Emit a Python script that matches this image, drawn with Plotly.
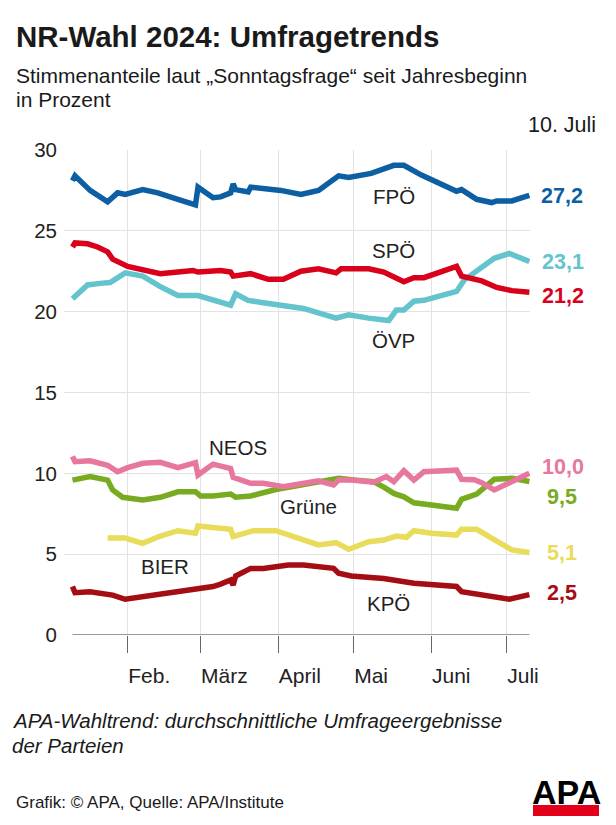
import plotly.graph_objects as go

# ---------------- data ----------------
fpo_dates = ["2024-01-10","2024-01-11","2024-01-17","2024-01-24","2024-01-28","2024-01-31","2024-02-07","2024-02-13",
             "2024-02-21","2024-02-28","2024-02-29","2024-03-06","2024-03-09","2024-03-13","2024-03-14","2024-03-15",
             "2024-03-20","2024-03-21","2024-04-02","2024-04-10","2024-04-17","2024-04-25","2024-04-29","2024-05-08",
             "2024-05-17","2024-05-21","2024-05-28","2024-06-11","2024-06-13","2024-06-19","2024-06-25","2024-06-27",
             "2024-07-03","2024-07-10"]
fpo = [28.1,28.4,27.5,26.8,27.35,27.25,27.55,27.35,26.95,26.6,27.7,27.05,27.1,27.35,27.9,27.55,
       27.4,27.7,27.5,27.25,27.5,28.4,28.3,28.55,29.05,29.05,28.45,27.45,27.55,26.95,26.75,26.85,26.85,27.2]

spo_dates = ["2024-01-10","2024-01-11","2024-01-16","2024-01-20","2024-01-24","2024-01-26","2024-02-01","2024-02-07",
             "2024-02-14","2024-02-21","2024-02-27","2024-02-29","2024-03-06","2024-03-09","2024-03-13","2024-03-14",
             "2024-03-21","2024-03-28","2024-04-03","2024-04-10","2024-04-17","2024-04-24","2024-04-26","2024-05-07",
             "2024-05-13","2024-05-21","2024-05-25","2024-05-29","2024-06-11","2024-06-13","2024-06-21","2024-06-27",
             "2024-07-03","2024-07-10"]
spo = [24.0,24.25,24.2,24.0,23.7,23.25,22.8,22.6,22.35,22.45,22.55,22.45,22.55,22.55,22.45,22.2,
       22.35,22.0,22.0,22.5,22.65,22.4,22.65,22.65,22.45,21.85,22.1,22.1,22.8,22.2,21.9,21.5,21.3,21.2]

ovp_dates = ["2024-01-10","2024-01-11","2024-01-16","2024-01-21","2024-01-25","2024-01-31","2024-02-07","2024-02-14",
             "2024-02-21","2024-02-29","2024-03-06","2024-03-09","2024-03-13","2024-03-15","2024-03-20","2024-03-26",
             "2024-04-05","2024-04-11","2024-04-24","2024-04-29","2024-05-07","2024-05-15","2024-05-18","2024-05-21",
             "2024-05-25","2024-05-29","2024-06-11","2024-06-14","2024-06-26","2024-07-02","2024-07-10"]
ovp = [20.8,20.95,21.65,21.75,21.8,22.4,22.2,21.55,21.0,21.0,20.7,20.6,20.4,21.1,20.7,20.55,
       20.3,20.2,19.6,19.8,19.6,19.45,20.1,20.1,20.65,20.7,21.25,21.95,23.3,23.6,23.1]

neos_dates = ["2024-01-10","2024-01-11","2024-01-17","2024-01-24","2024-01-28","2024-02-01","2024-02-07","2024-02-14",
              "2024-02-21","2024-02-28","2024-02-29","2024-03-06","2024-03-13","2024-03-14","2024-03-21","2024-03-26",
              "2024-04-03","2024-04-17","2024-04-23","2024-04-25","2024-04-30","2024-05-09","2024-05-14","2024-05-17",
              "2024-05-21","2024-05-25","2024-05-29","2024-06-11","2024-06-13","2024-06-18","2024-06-21","2024-06-26",
              "2024-07-10"]
neos = [11.05,10.72,10.78,10.5,10.1,10.35,10.62,10.68,10.35,10.66,9.9,10.57,10.3,9.75,9.38,9.38,
        9.17,9.54,9.28,9.58,9.58,9.45,9.8,9.48,10.16,9.58,10.1,10.2,9.63,9.6,9.42,8.97,10.0]

gruene_dates = ["2024-01-10","2024-01-17","2024-01-24","2024-01-26","2024-01-30","2024-02-07","2024-02-14","2024-02-21",
                "2024-02-28","2024-03-01","2024-03-06","2024-03-13","2024-03-15","2024-03-21","2024-03-31","2024-04-17",
                "2024-04-25","2024-05-02","2024-05-09","2024-05-13","2024-05-17","2024-05-21","2024-05-25","2024-06-01",
                "2024-06-11","2024-06-13","2024-06-19","2024-06-26","2024-07-03","2024-07-10"]
gruene = [9.58,9.8,9.58,8.97,8.52,8.35,8.52,8.86,8.86,8.6,8.6,8.72,8.52,8.6,9.0,9.48,
          9.69,9.58,9.48,9.15,8.76,8.55,8.18,8.04,7.84,8.39,8.72,9.63,9.69,9.5]

bier_dates = ["2024-01-24","2024-01-31","2024-02-07","2024-02-14","2024-02-21","2024-02-28","2024-02-29","2024-03-06",
              "2024-03-13","2024-03-14","2024-03-22","2024-03-31","2024-04-17","2024-04-24","2024-04-29","2024-05-07",
              "2024-05-13","2024-05-18","2024-05-22","2024-05-25","2024-06-01","2024-06-11","2024-06-13","2024-06-19",
              "2024-06-26","2024-07-03","2024-07-10"]
bier = [6.0,6.0,5.67,6.12,6.45,6.29,6.74,6.66,6.54,6.08,6.45,6.45,5.57,5.71,5.3,5.77,
        5.87,6.12,6.04,6.45,6.29,6.18,6.54,6.54,5.87,5.26,5.1]

kpo_dates = ["2024-01-10","2024-01-11","2024-01-17","2024-01-26","2024-01-31","2024-02-07","2024-02-14","2024-02-21",
             "2024-02-28","2024-02-29","2024-03-06","2024-03-09","2024-03-11","2024-03-13","2024-03-14","2024-03-15",
             "2024-03-21","2024-03-26","2024-04-05","2024-04-11","2024-04-23","2024-04-25","2024-04-30","2024-05-13",
             "2024-05-25","2024-06-11","2024-06-13","2024-06-19","2024-07-02","2024-07-10"]
kpo = [3.0,2.62,2.68,2.47,2.21,2.37,2.58,2.74,2.83,2.93,3.0,3.15,3.3,3.4,3.09,3.65,
       4.12,4.12,4.33,4.33,4.12,3.82,3.65,3.5,3.2,3.0,2.68,2.54,2.21,2.5]

parties = ["FPÖ", "SPÖ", "ÖVP", "NEOS", "Grüne", "BIER", "KPÖ"]
month_ticks = ["2024-02-01","2024-03-01","2024-04-01","2024-05-01","2024-06-01","2024-07-01"]
month_labels = ["Feb.", "März", "April", "Mai", "Juni", "Juli"]
y_ticks = [0, 5, 10, 15, 20, 25, 30]

# ---------------- styling ----------------
series = {
    "ÖVP":   (ovp_dates, ovp, "#63c4cd"),
    "SPÖ":   (spo_dates, spo, "#d9001b"),
    "FPÖ":   (fpo_dates, fpo, "#0c5fa3"),
    "BIER":  (bier_dates, bier, "#e8dc5a"),
    "KPÖ":   (kpo_dates, kpo, "#a50d14"),
    "Grüne": (gruene_dates, gruene, "#78ab1f"),
    "NEOS":  (neos_dates, neos, "#e8779f"),
}
draw_order = ["ÖVP", "SPÖ", "FPÖ", "BIER", "KPÖ", "Grüne", "NEOS"]

# name label placement (date, value)
name_pos = {
    "FPÖ": ("2024-05-17", 27.15), "SPÖ": ("2024-05-17", 23.8), "ÖVP": ("2024-05-17", 18.2),
    "NEOS": ("2024-03-16", 11.6), "Grüne": ("2024-04-13", 7.95), "BIER": ("2024-02-16", 4.25),
    "KPÖ": ("2024-05-15", 1.95),
}
# end-value label vertical placement
end_label_y = {"FPÖ": 27.15, "ÖVP": 23.05, "SPÖ": 20.95, "NEOS": 10.4, "Grüne": 8.55, "BIER": 5.1, "KPÖ": 2.6}
end_label_shift = {"FPÖ": 10, "ÖVP": 11, "SPÖ": 11, "NEOS": 11, "Grüne": 16, "BIER": 16, "KPÖ": 16}

FONT = "Liberation Sans, Arial, Helvetica, sans-serif"
W, H = 616, 825
L, R, T, B = 64, 530, 150, 635


def px(x):
    return (x - L) / (R - L)


def py(y):
    return (B - y) / (B - T)


fig = go.Figure()
for name in draw_order:
    d, v, c = series[name]
    fig.add_trace(go.Scatter(x=d, y=v, mode="lines", name=name,
                             line=dict(color=c, width=5.5), hoverinfo="skip"))

annotations = []
for name in parties:
    d, v, c = series[name]
    annotations.append(dict(x=name_pos[name][0], y=name_pos[name][1], xref="x", yref="y",
                            text=name, showarrow=False, xanchor="center", yanchor="middle",
                            font=dict(family=FONT, size=20.5, color="#222")))
    annotations.append(dict(x=d[-1], y=end_label_y[name], xref="x", yref="y",
                            text="<b>" + f"{v[-1]:.1f}".replace(".", ",") + "</b>",
                            showarrow=False, xanchor="left", yanchor="middle",
                            xshift=end_label_shift[name],
                            font=dict(family=FONT, size=21.5, color=c)))

# text blocks
annotations += [
    dict(x=px(14), y=py(37), xref="paper", yref="paper", text="<b>NR-Wahl 2024: Umfragetrends</b>",
         showarrow=False, xanchor="left", yanchor="middle", font=dict(family=FONT, size=29.5, color="#1a1a1a")),
    dict(x=px(14), y=py(75), xref="paper", yref="paper",
         text="Stimmenanteile laut „Sonntagsfrage“ seit Jahresbeginn",
         showarrow=False, xanchor="left", yanchor="middle", font=dict(family=FONT, size=21, color="#1a1a1a")),
    dict(x=px(14), y=py(100), xref="paper", yref="paper", text="in Prozent",
         showarrow=False, xanchor="left", yanchor="middle", font=dict(family=FONT, size=21, color="#1a1a1a")),
    dict(x=px(598), y=py(125), xref="paper", yref="paper", text="10. Juli",
         showarrow=False, xanchor="right", yanchor="middle", font=dict(family=FONT, size=21.5, color="#1a1a1a")),
    dict(x=px(10), y=py(720), xref="paper", yref="paper",
         text="<i>APA-Wahltrend: durchschnittliche Umfrageergebnisse</i>",
         showarrow=False, xanchor="left", yanchor="middle", font=dict(family=FONT, size=20.5, color="#1a1a1a")),
    dict(x=px(10), y=py(745), xref="paper", yref="paper", text="<i>der Parteien</i>",
         showarrow=False, xanchor="left", yanchor="middle", font=dict(family=FONT, size=20.5, color="#1a1a1a")),
    dict(x=px(14), y=py(802), xref="paper", yref="paper", text="Grafik: © APA, Quelle: APA/Institute",
         showarrow=False, xanchor="left", yanchor="middle", font=dict(family=FONT, size=17, color="#1a1a1a")),
    dict(x=px(566), y=py(813), xref="paper", yref="paper", text="<b>APA</b>",
         showarrow=False, xanchor="center", yanchor="bottom", font=dict(family=FONT, size=34, color="#000")),
]

shapes = [
    # baseline
    dict(type="line", xref="x", yref="y", x0=fpo_dates[0], x1=fpo_dates[-1], y0=0, y1=0,
         line=dict(color="#777", width=1.5), layer="above"),
    # APA logo red bar
    dict(type="rect", xref="paper", yref="paper", x0=px(533), x1=px(599), y0=py(816), y1=py(805),
         fillcolor="#e2001a", line=dict(width=0), layer="below"),
]

fig.update_layout(
    width=W, height=H, autosize=False,
    margin=dict(l=L, r=W - R, t=T, b=H - B, pad=0),
    paper_bgcolor="white", plot_bgcolor="white",
    showlegend=False,
    font=dict(family=FONT, color="#222"),
    annotations=annotations, shapes=shapes,
    xaxis=dict(type="date", range=["2024-01-06 15:00", "2024-07-10 06:00"],
               tickvals=month_ticks, ticktext=month_labels, ticklabelposition="outside right",
               ticklabelstandoff=22,
               ticks="outside", ticklen=17, tickcolor="#666", tickwidth=1,
               showgrid=True, gridcolor="#e3e3e3", gridwidth=1,
               showline=False, zeroline=False,
               tickfont=dict(family=FONT, size=21, color="#222"), fixedrange=True),
    yaxis=dict(range=[0, 30], tickvals=y_ticks, ticks="", showgrid=True, gridcolor="#e3e3e3",
               gridwidth=1, zeroline=False, showline=False, ticklabelstandoff=6,
               tickfont=dict(family=FONT, size=20.5, color="#222"), fixedrange=True),
)

fig.write_html("out.html", config={"displayModeBar": False},
               post_script="document.body.style.margin='0px';document.body.style.overflow='hidden';")
